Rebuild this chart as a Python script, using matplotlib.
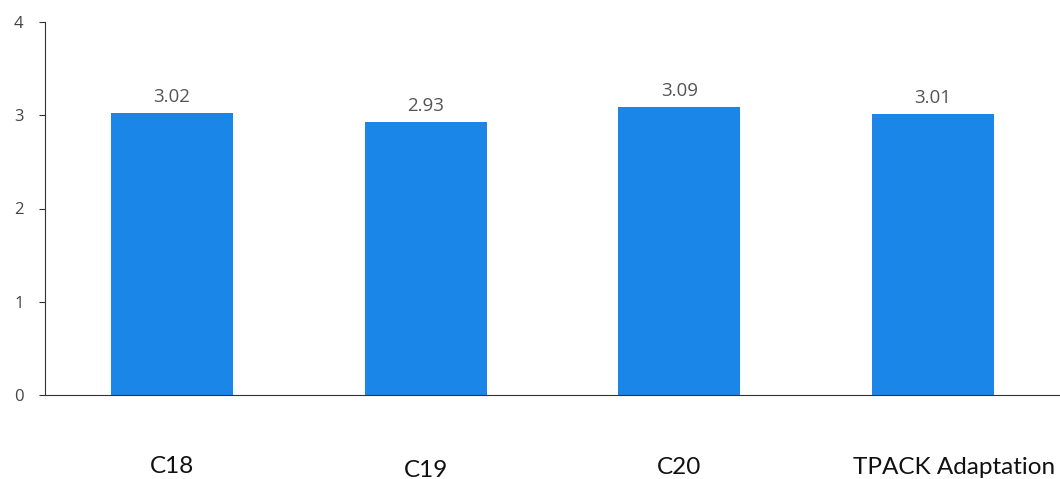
import matplotlib.pyplot as plt

categories = ['C18', 'C19', 'C20', 'TPACK Adaptation']
means = [3.02, 2.93, 3.09, 3.01]
# category labels sit at slightly different places in the original
label_dx = [0, 0, 0, 15]
label_dy = [-56, -59, -57, -57]

fig = plt.figure(figsize=(10.6, 4.79), dpi=100)
ax = fig.add_axes([45 / 1060, 84 / 479, 1015 / 1060, 373 / 479])

bars = ax.bar(range(len(means)), means, width=0.48, color='#1a86e8', zorder=2)

for i, v in enumerate(means):
    ax.annotate(f'{v:.2f}', (i, v), xytext=(0, 8), textcoords='offset points',
                ha='center', va='baseline', fontsize=13.5, color='#555555',
                family='Open Sans')

for i, name in enumerate(categories):
    ax.annotate(name, (i, 0), xytext=(label_dx[i], label_dy[i]), textcoords='offset points',
                ha='center', va='baseline', fontsize=17.5, color='#111111',
                family='Lato', annotation_clip=False)

ax.set_xlim(-0.5, 3.5)
ax.set_ylim(0, 4)
ax.set_yticks([0, 1, 2, 3, 4])
ax.set_xticks([])
ax.tick_params(axis='y', length=4.5, width=0.8, colors='#333333', labelsize=12,
               labelcolor='#444444', pad=11)
for s in ['top', 'right']:
    ax.spines[s].set_visible(False)
ax.spines['left'].set_color('#333333')
ax.spines['bottom'].set_color('#333333')
for lab in ax.get_yticklabels():
    lab.set_family('Open Sans')

fig.savefig('out.png', dpi=100)
